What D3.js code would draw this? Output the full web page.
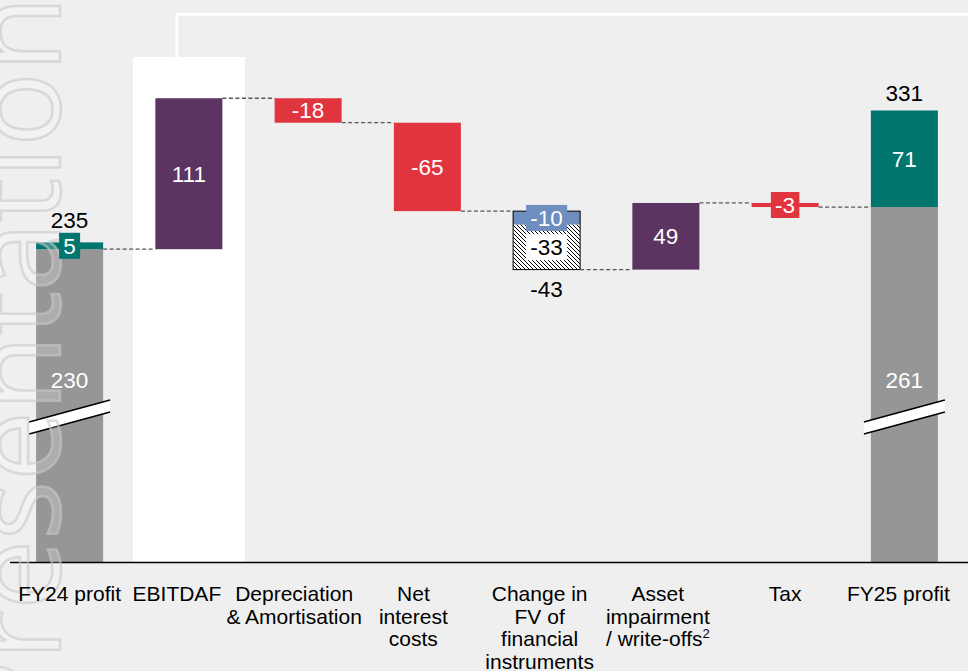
<!DOCTYPE html>
<html>
<head>
<meta charset="utf-8">
<title>FY24 to FY25 profit bridge</title>
<script src="https://d3js.org/d3.v7.min.js"></script>
<style>
body { margin: 0; background: #efefef; font-family: Arial, 'Liberation Sans', sans-serif; }
svg { display: block; }
</style>
</head>
<body>
<script>
// Data
var categories = ["FY24 profit", "EBITDAF", "Depreciation & Amortisation", "Net interest costs",
  "Change in FV of financial instruments", "Asset impairment / write-offs2", "Tax", "FY25 profit"];
var categoryLines = [["FY24 profit"], ["EBITDAF"], ["Depreciation", "& Amortisation"], ["Net", "interest", "costs"],
  ["Change in", "FV of", "financial", "instruments"], ["Asset", "impairment", "/ write-offs"], ["Tax"], ["FY25 profit"]];
var fy24Parts = [230, 5];      // underlying, other
var fy24Total = 235;
var stepValues = [111, -18, -65, -43, 49, -3];   // EBITDAF .. Tax
var stepKinds = ["pos", "neg", "neg", "fv", "pos", "neg"];
var fvParts = [-10, -33];
var fy25Parts = [261, 71];
var fy25Total = 331;

// layout
var W = 968, H = 671;
var labelShift = [0, -12, -14, -14, -7, -8, 0, -6];
var colors = { base: "#969696", other: "#00766f", pos: "#5b3461", neg: "#e0343f", fv: "#6d8ebf" };

var svg = d3.select("body").append("svg").attr("width", W).attr("height", H);

var x = d3.scaleBand().domain(categories).range([10, 964]).paddingInner(0.438).paddingOuter(0.219);
var y = d3.scaleLinear().domain([0, 400]).range([562, 18]);
var bw = x.bandwidth();
function cx(i) { return x(categories[i]) + bw / 2; }

// hatch
var defs = svg.append("defs");
var pat = defs.append("pattern").attr("id", "hatch").attr("patternUnits", "userSpaceOnUse")
  .attr("width", 4).attr("height", 4);
pat.append("rect").attr("width", 4).attr("height", 4).attr("fill", "#fff");
pat.append("path").attr("d", "M-1,-1L5,5M-1,3L1,5M3,-1L5,1").attr("stroke", "#000").attr("stroke-width", 1);

// white frame decoration + EBITDAF panel
svg.append("path").attr("d", "M" + (cx(1) - 12) + ",58V14.5H968")
  .attr("fill", "none").attr("stroke", "#fff").attr("stroke-width", 3);
svg.append("rect").attr("x", cx(1) - 56).attr("y", 57).attr("width", 112).attr("height", y(0) - 57)
  .attr("fill", "#fff");

// bars
var g = svg.append("g");
function bar(i, v0, v1, fill) {
  return g.append("rect").attr("x", x(categories[i])).attr("width", bw)
    .attr("y", y(Math.max(v0, v1))).attr("height", Math.abs(y(v0) - y(v1))).attr("fill", fill);
}

bar(0, 0, fy24Parts[0], colors.base);
bar(0, fy24Parts[0], fy24Parts[0] + fy24Parts[1], colors.other);

var level = fy24Parts[0];
var steps = [];
stepValues.forEach(function(v, k) {
  var i = k + 1;
  var s = { i: i, from: level, to: level + v, v: v, kind: stepKinds[k] };
  if (s.kind === "fv") {
    var mid = level + fvParts[0];
    bar(i, level, mid, colors.fv);
    bar(i, mid, s.to, "url(#hatch)");
    g.append("rect").attr("x", x(categories[i])).attr("width", bw)
      .attr("y", y(level)).attr("height", y(s.to) - y(level))
      .attr("fill", "none").attr("stroke", "#000").attr("stroke-width", 1);
    s.mid = mid;
  } else {
    bar(i, level, s.to, colors[s.kind]);
  }
  steps.push(s);
  level = s.to;
});

bar(7, 0, fy25Parts[0], colors.base);
bar(7, fy25Parts[0], fy25Parts[0] + fy25Parts[1], colors.other);

// connectors
var conn = svg.append("g").attr("stroke", "#555").attr("stroke-width", 1.3).attr("stroke-dasharray", "4,2.5");
for (var i = 0; i < 7; i++) {
  var lv = i === 0 ? fy24Parts[0] : steps[i - 1].to;
  conn.append("line").attr("x1", x(categories[i]) + bw).attr("x2", x(categories[i + 1]))
    .attr("y1", y(lv)).attr("y2", y(lv));
}

// axis break marks
[0, 7].forEach(function(i) {
  var c = cx(i), yb = 417;
  var brk = svg.append("g");
  brk.append("path").attr("d", "M" + (c - 40.5) + "," + (yb + 5) + "L" + (c + 40.5) + "," + (yb - 17) +
    "L" + (c + 40.5) + "," + (yb - 5) + "L" + (c - 40.5) + "," + (yb + 17) + "Z").attr("fill", "#fff");
  brk.append("line").attr("x1", c - 40.5).attr("y1", yb + 5).attr("x2", c + 40.5).attr("y2", yb - 17)
    .attr("stroke", "#000").attr("stroke-width", 1.5);
  brk.append("line").attr("x1", c - 40.5).attr("y1", yb + 17).attr("x2", c + 40.5).attr("y2", yb - 5)
    .attr("stroke", "#000").attr("stroke-width", 1.5);
});

// baseline
svg.append("line").attr("x1", 10).attr("x2", W).attr("y1", y(0) + 0.5).attr("y2", y(0) + 0.5)
  .attr("stroke", "#000").attr("stroke-width", 1.5);

// faint watermark (cut off at the left edge, as in the source slide)
svg.append("text").attr("transform", "translate(60,-4) rotate(-90)")
  .attr("text-anchor", "end").attr("font-size", 124).attr("font-family", "'Open Sans', sans-serif")
  .attr("fill", "rgba(255,255,255,0.22)").attr("stroke", "rgba(200,200,200,0.6)").attr("stroke-width", 2.5)
  .text("Presentation");

// value labels
var lab = svg.append("g").attr("font-size", 22.5).attr("text-anchor", "middle");
function valueLabel(i, yc, txt, col, boxFill) {
  var t = lab.append("text").attr("x", cx(i)).attr("y", yc).attr("dy", "0.35em").attr("fill", col).text(txt);
  if (boxFill) {
    var w = t.node().getComputedTextLength() + 8.5;
    lab.insert("rect", function() { return t.node(); })
      .attr("x", cx(i) - w / 2).attr("y", yc - 13).attr("width", w).attr("height", 26).attr("fill", boxFill);
  }
  return t;
}

valueLabel(0, 380, fy24Parts[0], "#fff");
valueLabel(0, (y(fy24Parts[0]) + y(fy24Total)) / 2, fy24Parts[1], "#fff", colors.other);
lab.append("text").attr("x", cx(0)).attr("y", y(fy24Total) - 22)
  .attr("dy", "0.35em").attr("fill", "#000").text(fy24Total);

steps.forEach(function(s) {
  var yc = (y(s.from) + y(s.to)) / 2;
  if (s.kind === "fv") {
    valueLabel(s.i, (y(s.from) + y(s.mid)) / 2, fvParts[0], "#fff", colors.fv);
    valueLabel(s.i, (y(s.mid) + y(s.to)) / 2, fvParts[1], "#000", "#fff");
    lab.append("text").attr("x", cx(s.i)).attr("y", y(s.to) + 20).attr("dy", "0.35em").attr("fill", "#000").text(s.v);
  } else if (Math.abs(y(s.from) - y(s.to)) < 20) {
    valueLabel(s.i, yc, s.v, "#fff", colors[s.kind]);
  } else {
    valueLabel(s.i, yc, s.v, "#fff");
  }
});

valueLabel(7, 380, fy25Parts[0], "#fff");
valueLabel(7, (y(fy25Parts[0]) + y(fy25Parts[0] + fy25Parts[1])) / 2, fy25Parts[1], "#fff");
lab.append("text").attr("x", cx(7)).attr("y", y(fy25Parts[0] + fy25Parts[1]) - 9).attr("fill", "#000").text(fy25Total);

// category labels
var cat = svg.append("g").attr("font-size", 21).attr("text-anchor", "middle").attr("fill", "#000");
categoryLines.forEach(function(lines, i) {
  var t = cat.append("text").attr("x", cx(i) + labelShift[i]).attr("y", 601);
  lines.forEach(function(l, k) {
    t.append("tspan").attr("x", cx(i) + labelShift[i]).attr("dy", k === 0 ? 0 : 22.5).text(l);
  });
  if (i === 5) {
    t.append("tspan").attr("font-size", 13).attr("dy", -8).text("2");
  }
});
</script>
</body>
</html>
